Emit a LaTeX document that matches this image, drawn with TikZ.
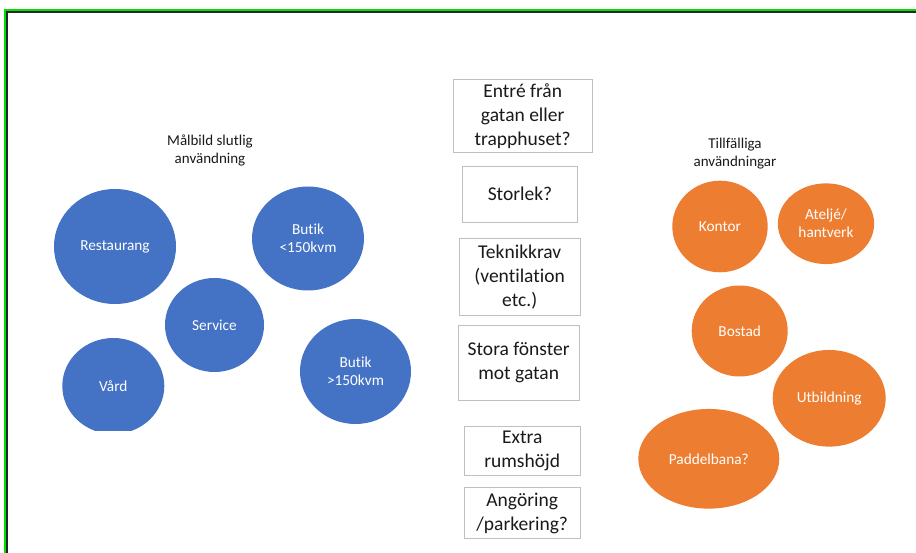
\documentclass[tikz,border=0pt]{standalone}
\usepackage{fontspec}
\setmainfont{Carlito}[RawFeature={-liga,-clig,-calt,-dlig,-rlig}]
\usetikzlibrary{shapes.geometric}
\definecolor{useblue}{HTML}{4472C4}
\definecolor{useorange}{HTML}{ED7D31}
\definecolor{boxline}{HTML}{BFBFBF}
\definecolor{frameGreen}{HTML}{00E000}
\definecolor{txt}{HTML}{1A1A1A}
\tikzset{
  blob/.style={ellipse, inner sep=0pt, text=white, align=center,
    font=\fontsize{15.3}{18}\selectfont},
  bluebubble/.style={blob, fill=useblue},
  orangebubble/.style={blob, fill=useorange},
  qbox/.style={rectangle, draw=boxline, line width=0.9pt, inner sep=0pt,
    text=txt, align=center, font=\fontsize{19.5}{24}\selectfont},
  heading/.style={text=txt, align=center, inner sep=0pt,
    font=\fontsize{15}{17.5}\selectfont}
}
\begin{document}
\begin{tikzpicture}[x=1pt, y=-1pt]
  \useasboundingbox (0,0) rectangle (916,553);
  \fill[white] (0,0) rectangle (916,553);

  % window frame: green outer edge, dark inner edge
  \draw[frameGreen, line width=2pt] (5.2,553) -- (5.2,10) -- (916,10);
  \draw[black!85, line width=1.4pt] (6.8,553) -- (6.8,12) -- (916,12);

  % final target uses
  \node[heading] (tfinal) at (210,150.5) {Målbild slutlig\\användning};
  \node[bluebubble, minimum width=122pt, minimum height=115pt] (rest) at (115,246.5) {Restaurang};
  \node[bluebubble, minimum width=112pt, minimum height=104pt] (bsmall) at (308,238.5) {Butik\\<150kvm};
  \node[bluebubble, minimum width=99pt, minimum height=94pt] (serv) at (214.5,325) {Service};
  \node[bluebubble, minimum width=111pt, minimum height=105pt] (blarge) at (355.5,371.5) {Butik\\>150kvm};
  \begin{scope}
    \clip (0,0) rectangle (916,430);
    \node[bluebubble, minimum width=102pt, minimum height=96pt] (vard) at (113.3,386) {Vård};
  \end{scope}

  % open questions
  \node[qbox, minimum width=138.7pt, minimum height=73pt] (q1) at (522.7,115.8) {Entré från\\gatan eller\\trapphuset?};
  \node[qbox, minimum width=115.4pt, minimum height=56.3pt] (q2) at (520,194.2) {Storlek?};
  \node[qbox, minimum width=121.3pt, minimum height=77.4pt] (q3) at (519.7,277) {Teknikkrav\\(ventilation\\etc.)};
  \node[qbox, minimum width=121.3pt, minimum height=75pt] (q4) at (518.7,362.5) {Stora fönster\\mot gatan};
  \node[qbox, minimum width=116.3pt, minimum height=49.7pt] (q5) at (522.2,450.9) {Extra\\rumshöjd};
  \node[qbox, minimum width=116.3pt, minimum height=50.6pt] (q6) at (522.2,513) {Angöring\\/parkering?};

  % temporary uses
  \node[heading] (ttemp) at (735,153.5) {Tillfälliga\\användningar};
  \node[orangebubble, minimum width=95.4pt, minimum height=91.6pt] (kontor) at (720,226.5) {Kontor};
  \node[orangebubble, minimum width=96.3pt, minimum height=80.7pt] (atelje) at (826,223.7) {Ateljé/\\hantverk};
  \node[orangebubble, minimum width=96pt, minimum height=91pt] (bostad) at (739.7,331) {Bostad};
  \node[orangebubble, minimum width=113pt, minimum height=96.7pt] (utb) at (829.2,398.3) {Utbildning};
  \node[orangebubble, minimum width=141pt, minimum height=99.7pt] (paddel) at (708.8,458.8) {Paddelbana?};
\end{tikzpicture}
\end{document}
